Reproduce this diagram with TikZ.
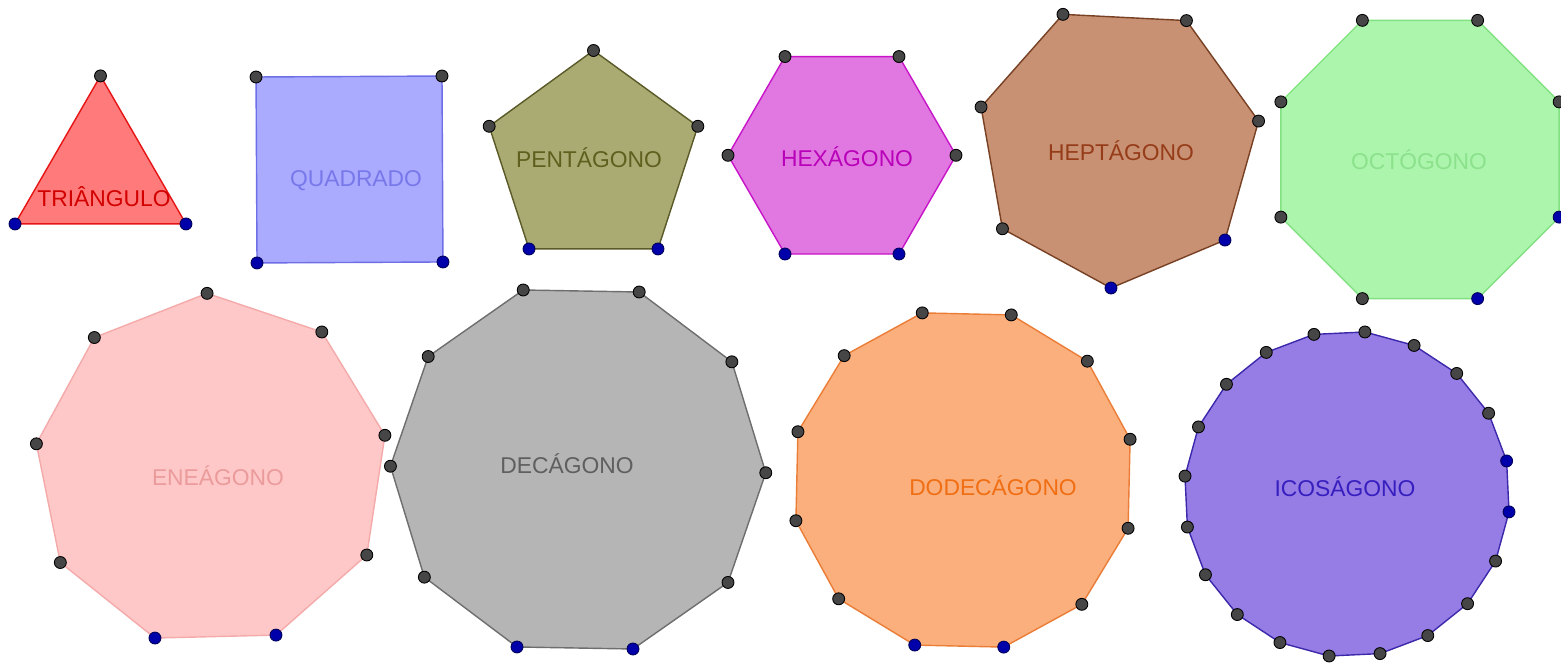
\documentclass[tikz,border=0pt]{standalone}
\usepackage{fontspec}
\setmainfont{Liberation Sans}
\usepackage{tikz}

\definecolor{filltri}{RGB}{255,122,122}   \definecolor{linetri}{RGB}{230,20,20}    \definecolor{texttri}{RGB}{210,0,0}
\definecolor{fillquad}{RGB}{170,170,255}  \definecolor{linequad}{RGB}{110,110,230} \definecolor{textquad}{RGB}{120,120,235}
\definecolor{fillpenta}{RGB}{170,170,115} \definecolor{linepenta}{RGB}{90,90,40}   \definecolor{textpenta}{RGB}{95,95,30}
\definecolor{fillhexa}{RGB}{225,120,225}  \definecolor{linehexa}{RGB}{200,20,200}  \definecolor{texthexa}{RGB}{185,0,185}
\definecolor{fillhepta}{RGB}{200,145,115} \definecolor{linehepta}{RGB}{120,65,35}  \definecolor{texthepta}{RGB}{150,60,25}
\definecolor{fillocta}{RGB}{172,245,172}  \definecolor{lineocta}{RGB}{130,225,130} \definecolor{textocta}{RGB}{140,225,140}
\definecolor{fillennea}{RGB}{255,200,200} \definecolor{lineennea}{RGB}{245,170,170} \definecolor{textennea}{RGB}{235,155,155}
\definecolor{filldeca}{RGB}{181,181,181}  \definecolor{linedeca}{RGB}{110,110,110} \definecolor{textdeca}{RGB}{95,95,95}
\definecolor{filldodeca}{RGB}{250,175,125} \definecolor{linedodeca}{RGB}{235,125,55} \definecolor{textdodeca}{RGB}{240,110,20}
\definecolor{fillicosa}{RGB}{150,125,230} \definecolor{lineicosa}{RGB}{60,40,170}  \definecolor{texticosa}{RGB}{55,30,190}

\begin{document}
\begin{tikzpicture}[x=0.02cm,y=0.02cm,
        vertex/.style={fill={rgb,255:red,70;green,70;blue,70},draw=black,line width=0.5pt},
        basept/.style={fill={rgb,255:red,0;green,0;blue,170},draw={rgb,255:red,0;green,0;blue,90},line width=0.5pt},
        polyname/.style={font=\fontsize{13}{15}\selectfont,inner sep=0pt}]
        % white page
        \fill[white] (0,0) rectangle (1561,665);
        \useasboundingbox (0,0) rectangle (1561,665);
        % sides/centre x/centre y/radius/phase/colour/label/label x/label y
        \foreach \n/\cx/\cy/\r/\ph/\nm/\lbl/\lx/\ly in {
            3/100.5/490.4/98.7/210/tri/TRIÂNGULO/104/468,
            4/349.5/495.5/131.5/225.3/quad/QUADRADO/356/484,
            5/593.5/504.8/109.7/234/penta/PENTÁGONO/589/507,
            6/842/509.7/114/240/hexa/HEXÁGONO/847/508,
            7/1118.2/519.3/142.5/267.1/hepta/HEPTÁGONO/1121/514,
            8/1420/505.5/150.6/292.5/octa/OCTÓGONO/1419/505,
            9/211.4/194.7/177/251.4/ennea/ENEÁGONO/218/189,
            10/578.1/195.5/187.7/251/deca/DECÁGONO/567/201,
            12/963/185/172/253.7/dodeca/DODECÁGONO/993/179,
            20/1347/171/163/353.7/icosa/ICOSÁGONO/1345/178}
        {
            \begin{scope}[shift={(\cx,\cy)}]
                \pgfmathtruncatemacro\m{\n-1}
                % polygon
                \draw[line width=0.8pt, draw=line\nm, fill=fill\nm]
                    (\ph:\r) \foreach \k in {1,...,\m} {-- ({\ph+360*\k/\n}:\r)} -- cycle;
                % free vertices, then the two base points
                \foreach \k in {2,...,\m}
                    \path[vertex] ({\ph+360*\k/\n}:\r) circle (3.4pt);
                \path[basept] (\ph:\r) circle (3.4pt) ({\ph+360/\n}:\r) circle (3.4pt);
            \end{scope}
            \node[polyname, text=text\nm] (name\n) at (\lx,\ly) {\lbl};
        }
\end{tikzpicture}
\end{document}
